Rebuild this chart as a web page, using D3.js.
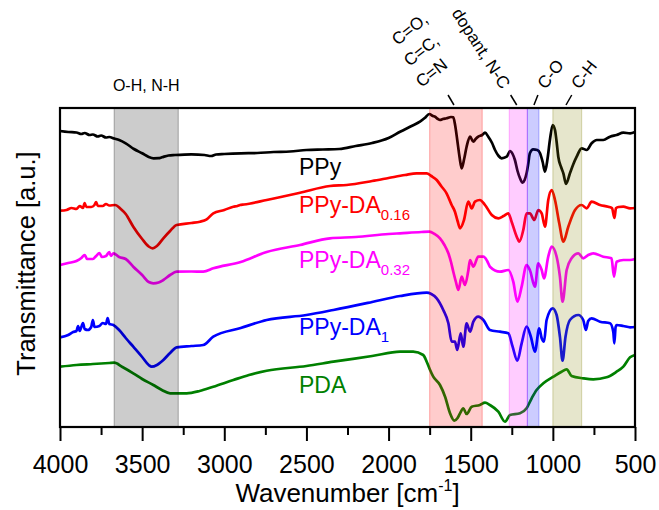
<!DOCTYPE html>
<html>
<head>
<meta charset="utf-8">
<script src="https://cdn.jsdelivr.net/npm/d3@7"></script>
<style>
body { margin: 0; background: #fff; }
svg { display: block; font-family: "Liberation Sans", Arial, sans-serif; }
</style>
</head>
<body>
<svg id="chart" width="659" height="510"></svg>
<script>
// FTIR spectra, [wavenumber, transmittance a.u.]

const ppy = [[4000,296],[3950,295],[3900,294.5],[3870,293],[3850,294],[3820,292],[3800,292.5],[3770,290.5],[3750,291.5],[3720,289.5],[3700,290],[3670,288.5],[3640,287],[3600,283.7],[3550,278],[3500,273.7],[3460,270],[3430,268.7],[3400,268.8],[3380,269.7],[3340,271.5],[3300,272],[3200,272.7],[3120,272],[3080,271],[3050,272.5],[3000,273],[2900,273.7],[2800,274],[2700,275],[2600,275.5],[2500,277],[2400,277.5],[2300,278],[2200,281],[2100,284],[2000,289],[1930,295.3],[1860,301],[1809,305.3],[1780,309],[1752,313],[1730,311],[1717,310.3],[1700,308],[1687,307],[1670,308],[1647,308.7],[1620,310],[1606,309.7],[1595,302],[1582,287],[1568,270],[1555,258.7],[1540,268],[1525,280.3],[1504,290.3],[1484,285.3],[1470,288],[1454,290.3],[1430,292],[1413,294.3],[1393,290.3],[1370,284],[1352,277],[1330,271],[1312,268.7],[1281,270.3],[1261,276],[1245,273],[1231,267],[1215,256],[1200,248.7],[1184,244.3],[1172,247],[1160,253.7],[1150,263],[1140,273.7],[1120,277.7],[1095,277],[1078,273.7],[1062,265],[1048,255.3],[1032,268.7],[1018,287],[1001,302],[987,297],[977,285],[967,270.3],[950,260],[936,253.7],[920,243],[896,253.7],[875,263],[855,270.3],[825,278.7],[794,277],[764,283.7],[733,287],[693,287],[652,290.3],[612,292],[571,294.3],[530,293.7],[500,295]];

const ppyDa016 = [[4000,216.3],[3960,217],[3930,219],[3900,218],[3880,221],[3860,219],[3850,224],[3840,220],[3810,220],[3790,222],[3780,225],[3770,221],[3740,221],[3720,223],[3700,221.5],[3665,222],[3630,218],[3600,213],[3554,200.3],[3500,188],[3460,180.5],[3436,178.7],[3410,181],[3371,188.7],[3330,196],[3290,202],[3200,204],[3148,205.3],[3107,207.7],[3067,213.7],[3000,217],[2945,220.3],[2920,221],[2904,222],[2880,222.5],[2742,227],[2539,234.3],[2357,241],[2255,242],[2100,246],[2000,249],[1900,252],[1829,253.7],[1768,253.7],[1740,251],[1707,247],[1680,241],[1647,233.7],[1616,222],[1596,215.3],[1580,206],[1565,198.7],[1541,207],[1515,225.3],[1494,218.7],[1474,225.3],[1444,227],[1413,222],[1372,212],[1332,208.7],[1300,211],[1271,213.7],[1251,205.3],[1220,190.3],[1204,185.3],[1180,197],[1160,213.7],[1140,213.7],[1113,207],[1089,217],[1068,213.7],[1048,200.3],[1028,227],[1007,237],[987,227],[961,203.7],[936,185.3],[906,200.3],[865,217],[825,222],[794,218.7],[764,225.3],[713,222],[663,220.3],[640,219],[625,209],[616,218.7],[600,220],[571,220.3],[530,218.7],[500,219]];

const ppyDa032 = [[4000,162],[3950,164],[3900,166],[3870,169],[3850,172],[3835,168],[3800,168],[3780,171],[3760,174],[3745,170],[3720,171],[3700,175],[3690,171],[3675,173.7],[3640,170],[3600,168],[3554,160.3],[3500,152],[3460,145],[3432,143.7],[3400,144.5],[3371,147],[3330,152],[3290,155.3],[3200,155.5],[3128,155.3],[3067,158.7],[2900,165],[2742,175],[2539,182],[2357,188.7],[2200,190],[2000,193],[1930,193.7],[1800,195],[1752,195.3],[1720,193],[1687,188.7],[1660,182],[1636,173.7],[1620,165],[1606,155.3],[1590,145],[1575,137],[1555,150.3],[1535,142],[1515,156],[1504,167],[1484,160.3],[1454,170.3],[1423,170.3],[1400,166],[1383,160.3],[1322,155.3],[1271,157],[1241,145.3],[1216,125.3],[1190,140.3],[1160,162],[1140,157],[1109,140.3],[1089,163.7],[1068,157],[1054,148.7],[1028,170.3],[1007,180.3],[977,170.3],[957,150.3],[941,125.3],[916,157],[886,168.7],[845,173.7],[815,168.7],[785,172],[754,173.7],[693,170.3],[643,168.7],[628,150.3],[612,165.3],[571,167],[530,167],[500,168]];

const ppyDa1 = [[4000,89.7],[3950,92],[3920,95],[3900,96],[3890,101],[3880,96],[3860,104],[3850,98],[3830,97],[3810,100],[3800,107],[3790,100],[3760,101],[3740,104],[3720,103],[3710,109],[3700,103],[3675,102],[3640,97],[3600,89],[3554,80.3],[3500,70],[3460,62],[3442,60.3],[3410,62],[3371,67],[3330,74],[3290,79.7],[3200,81],[3128,82],[3067,90.3],[2900,99],[2742,107],[2500,112],[2336,117],[2100,125],[1930,131],[1768,134.3],[1740,133],[1707,128.7],[1667,117],[1636,103.7],[1616,85.3],[1596,85.3],[1582,77],[1561,93.7],[1545,80.3],[1525,103.7],[1504,95.3],[1484,105.3],[1454,110.3],[1423,107],[1383,97],[1322,95.3],[1271,93.7],[1245,80.3],[1216,66.3],[1190,83.7],[1160,100.3],[1134,90.3],[1109,75.3],[1083,98.7],[1068,88.7],[1054,85.3],[1038,107],[1001,118.7],[977,112],[957,90.3],[941,66.3],[923,90.3],[896,107],[845,112],[815,107],[799,97],[785,106],[764,108.7],[713,105.3],[652,103.7],[632,95],[626,83.7],[618,100],[612,102],[571,101],[530,99.7],[500,100]];

const pda = [[4000,60.3],[3900,62],[3800,63],[3700,64],[3670,64.3],[3620,60],[3554,53.7],[3500,48],[3432,42],[3380,37],[3330,33.7],[3229,33.7],[3150,36],[3067,40.3],[2945,47],[2850,52],[2742,56.3],[2500,61],[2336,65.3],[2100,71],[1930,75.3],[1850,75.3],[1789,72],[1768,65.3],[1750,58],[1728,50.3],[1687,42],[1656,30.3],[1626,13.7],[1600,6.3],[1580,9],[1565,13.7],[1545,18.7],[1525,13],[1494,20.3],[1444,22],[1413,24.3],[1383,22],[1332,15.3],[1291,5.3],[1261,12],[1200,13.7],[1160,18.7],[1129,28.7],[1099,37],[1058,43.7],[997,50.3],[947,55.3],[916,57.7],[886,51],[815,48.7],[754,47.7],[673,49.7],[612,55.3],[571,60.3],[530,69.7],[500,72]];

const seriesNames = ["PPy", "PPy-DA", "PPy-DA", "PPy-DA", "PDA"];
const seriesSubs = ["", "0.16", "0.32", "1", ""];
const seriesColors = ["#000000", "#ff0000", "#ff00ff", "#0000ff", "#008000"];
// label anchor: wavenumber / transmittance of the text baseline start
const labelAt = [[2545, 252], [2545, 214], [2545, 159], [2545, 92], [2545, 34]];

// shaded assignment bands [from, to]
const bandRanges = [[3670, 3280], [1750, 1430], [1265, 1155], [1155, 1085], [1000, 825]];
const bandColors = ["0,0,0", "255,0,0", "255,0,255", "0,0,255", "128,128,0"];

const majorTicks = [4000, 3500, 3000, 2500, 2000, 1500, 1000, 500];
const minorTicks = [3750, 3250, 2750, 2250, 1750, 1250, 750];

const margin = { top: 108, right: 24, bottom: 83, left: 60 };
const W = 659, H = 510;

const svg = d3.select("#chart");

const x = d3.scaleLinear()
    .domain([4000, 500])
    .range([margin.left, W - margin.right]);

const y = d3.scaleLinear()
    .domain([0, 319])
    .range([H - margin.bottom, margin.top]);

const plotTop = margin.top, plotBottom = H - margin.bottom;

// 1. spectra
const line = d3.line()
    .x(d => x(d[0]))
    .y(d => y(d[1]))
    .curve(d3.curveMonotoneX);

const allSeries = [ppy, ppyDa016, ppyDa032, ppyDa1, pda];

svg.append("g")
    .selectAll("path")
    .data(allSeries)
    .enter()
    .append("path")
    .attr("d", d => line(d))
    .attr("fill", "none")
    .attr("stroke", (d, i) => seriesColors[i])
    .attr("stroke-width", 2.7)
    .attr("stroke-linejoin", "round");

// 2. bands drawn over the curves (tints them)
svg.append("g")
    .selectAll("rect")
    .data(bandRanges)
    .enter()
    .append("rect")
    .attr("x", d => x(d[0]))
    .attr("width", d => x(d[1]) - x(d[0]))
    .attr("y", plotTop)
    .attr("height", plotBottom - plotTop)
    .attr("fill", (d, i) => `rgba(${bandColors[i]},0.2)`)
    .attr("stroke", (d, i) => `rgba(${bandColors[i]},0.25)`)
    .attr("stroke-width", 1.2);

// 3. series labels
const labels = svg.append("g")
    .selectAll("text")
    .data(seriesNames)
    .enter()
    .append("text")
    .attr("x", (d, i) => x(labelAt[i][0]))
    .attr("y", (d, i) => y(labelAt[i][1]))
    .attr("fill", (d, i) => seriesColors[i])
    .style("font-size", "23px");

labels.append("tspan").text(d => d);
labels.append("tspan")
    .attr("dy", 7)
    .style("font-size", "15px")
    .text((d, i) => seriesSubs[i]);

// 4. frame + bottom axis
const axisMajor = d3.axisBottom(x)
    .tickValues(majorTicks)
    .tickSize(14)
    .tickPadding(14)
    .tickFormat(d3.format("d"));

const axisMinor = d3.axisBottom(x)
    .tickValues(minorTicks)
    .tickSize(8)
    .tickFormat("");

const gMinor = svg.append("g")
    .attr("transform", `translate(0,${plotBottom})`)
    .call(axisMinor);
gMinor.select(".domain").remove();
gMinor.selectAll("line").attr("stroke-width", 2);

const gMajor = svg.append("g")
    .attr("transform", `translate(0,${plotBottom})`)
    .call(axisMajor);
gMajor.select(".domain").remove();
gMajor.selectAll("line").attr("stroke-width", 2);
gMajor.selectAll("text")
    .style("font-size", "25px")
    .style("font-family", '"Liberation Sans", Arial, sans-serif')
    .attr("fill", "#000");

svg.append("rect")
    .attr("x", margin.left)
    .attr("y", plotTop)
    .attr("width", W - margin.right - margin.left)
    .attr("height", plotBottom - plotTop)
    .attr("fill", "none")
    .attr("stroke", "#000")
    .attr("stroke-width", 2.2);

// axis titles
const xTitle = svg.append("text")
    .attr("x", (margin.left + W - margin.right) / 2)
    .attr("y", 502)
    .attr("text-anchor", "middle")
    .style("font-size", "26px");
xTitle.append("tspan").text("Wavenumber [cm");
xTitle.append("tspan").attr("dy", -11).style("font-size", "16px").text("-1");
xTitle.append("tspan").attr("dy", 11).text("]");

svg.append("text")
    .attr("transform", `translate(35,${(plotTop + plotBottom) / 2 - 4}) rotate(-90)`)
    .attr("text-anchor", "middle")
    .style("font-size", "25.5px")
    .text("Transmittance [a.u.]");

// 5. band annotations above the frame
svg.append("text")
    .attr("x", x(3475))
    .attr("y", 91)
    .attr("text-anchor", "middle")
    .style("font-size", "16px")
    .text("O-H, N-H");

// pointer lines [wavenumber at top, wavenumber at frame]
const pointers = [[1638, 1602], [1257, 1220], [1091, 1115], [885, 920]];

svg.append("g")
    .selectAll("line")
    .data(pointers)
    .enter()
    .append("line")
    .attr("x1", d => x(d[0]))
    .attr("y1", plotTop - 13)
    .attr("x2", d => x(d[1]))
    .attr("y2", plotTop - 3)
    .attr("stroke", "#000")
    .attr("stroke-width", 1.5);

const rotated = [
    { text: "C=O,", w: 1945, y: 46, angle: -38, anchor: "start" },
    { text: "C=C,", w: 1872, y: 67, angle: -38, anchor: "start" },
    { text: "C=N", w: 1800, y: 88, angle: -38, anchor: "start" },
    { text: "dopant, N-C", w: 1315, y: 90, angle: 57, anchor: "end" },
    { text: "C-O", w: 1045, y: 90, angle: -52, anchor: "start" },
    { text: "C-H", w: 840, y: 90, angle: -52, anchor: "start" }
];

svg.append("g")
    .selectAll("text")
    .data(rotated)
    .enter()
    .append("text")
    .attr("transform", d => `translate(${x(d.w)},${d.y}) rotate(${d.angle})`)
    .attr("text-anchor", d => d.anchor)
    .style("font-size", "17px")
    .text(d => d.text);
</script>
</body>
</html>
